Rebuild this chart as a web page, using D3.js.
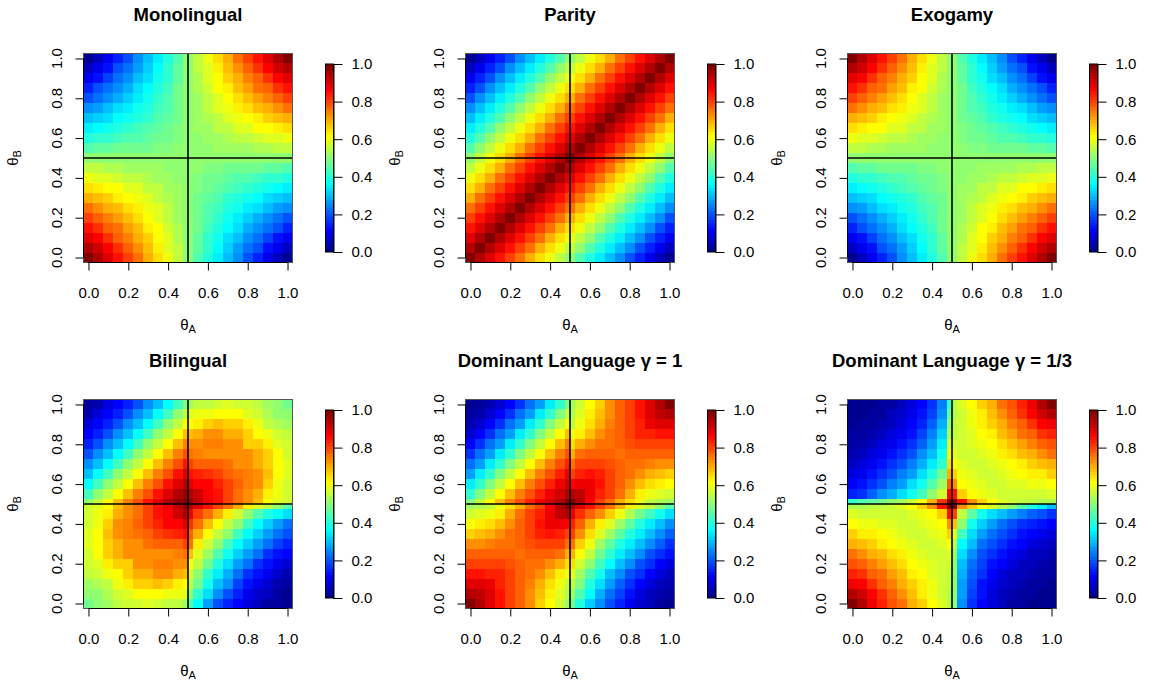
<!DOCTYPE html>
<html>
<head>
<meta charset="utf-8">
<script src="https://cdn.jsdelivr.net/npm/d3@7"></script>
<style>
body { margin: 0; background: #fff; }
text { font-family: "Liberation Sans", Arial, Helvetica, sans-serif; fill: #000; }
</style>
</head>
<body>
<svg id="chart" width="1154" height="684"></svg>
<script>
// grid positions (theta A across, theta B down from the top row)
const thetaCols = [0,0.05,0.1,0.15,0.2,0.25,0.3,0.35,0.4,0.45,0.499,0.501,0.55,0.6,0.65,0.7,0.75,0.8,0.85,0.9,0.95,1];
const thetaRows = [1,0.95,0.9,0.85,0.8,0.75,0.7,0.65,0.6,0.55,0.501,0.499,0.45,0.4,0.35,0.3,0.25,0.2,0.15,0.1,0.05,0];
const axisTicks = [0,0.2,0.4,0.6,0.8,1];
const legendTicks = [0,20,40,60,80,100];
const titles = ["Monolingual","Parity","Exogamy","Bilingual","Dominant Language \u03b3 = 1","Dominant Language \u03b3 = 1/3"];

// values in percent, rows from theta B = 1 (top) to 0 (bottom)
const monolingual = [
[0,5,10,15,20,25,30,35,40,45,50,50,55,60,65,70,75,80,85,90,95,100],
[5,10,14,19,23,28,32,37,41,46,50,50,55,59,64,68,73,77,82,86,91,95],
[10,14,18,22,26,30,34,38,42,46,50,50,54,58,62,66,70,74,78,82,86,90],
[15,19,22,26,29,33,36,40,43,47,50,50,54,57,61,64,68,71,75,78,82,85],
[20,23,26,29,32,35,38,41,44,47,50,50,53,56,59,62,65,68,71,74,77,80],
[25,28,30,33,35,38,40,43,45,48,50,50,53,55,58,60,63,65,68,70,73,75],
[30,32,34,36,38,40,42,44,46,48,50,50,52,54,56,58,60,62,64,66,68,70],
[35,37,38,40,41,43,44,46,47,49,50,50,52,53,55,56,58,59,61,62,64,65],
[40,41,42,43,44,45,46,47,48,49,50,50,51,52,53,54,55,56,57,58,59,60],
[45,46,46,47,47,48,48,49,49,50,50,50,51,51,52,52,53,53,54,54,55,55],
[50,50,50,50,50,50,50,50,50,50,50,50,50,50,50,50,50,50,50,50,50,50],
[50,50,50,50,50,50,50,50,50,50,50,50,50,50,50,50,50,50,50,50,50,50],
[55,55,54,54,53,53,52,52,51,51,50,50,50,49,49,48,48,47,47,46,46,45],
[60,59,58,57,56,55,54,53,52,51,50,50,49,48,47,46,45,44,43,42,41,40],
[65,64,62,61,59,58,56,55,53,52,50,50,49,47,46,44,43,41,40,38,37,35],
[70,68,66,64,62,60,58,56,54,52,50,50,48,46,44,42,40,38,36,34,32,30],
[75,73,70,68,65,63,60,58,55,53,50,50,48,45,43,40,38,35,33,30,28,25],
[80,77,74,71,68,65,62,59,56,53,50,50,47,44,41,38,35,32,29,26,23,20],
[85,82,78,75,71,68,64,61,57,54,50,50,47,43,40,36,33,29,26,22,19,15],
[90,86,82,78,74,70,66,62,58,54,50,50,46,42,38,34,30,26,22,18,14,10],
[95,91,86,82,77,73,68,64,59,55,50,50,46,41,37,32,28,23,19,14,10,5],
[100,95,90,85,80,75,70,65,60,55,50,50,45,40,35,30,25,20,15,10,5,0]
];

const parity = [
[0,5,10,15,20,25,30,35,40,45,50,50,55,60,65,70,75,80,85,90,95,100],
[5,10,15,20,25,30,35,40,45,50,55,55,60,65,70,75,80,85,90,95,100,95],
[10,15,20,25,30,35,40,45,50,55,60,60,65,70,75,80,85,90,95,100,95,90],
[15,20,25,30,35,40,45,50,55,60,65,65,70,75,80,85,90,95,100,95,90,85],
[20,25,30,35,40,45,50,55,60,65,70,70,75,80,85,90,95,100,95,90,85,80],
[25,30,35,40,45,50,55,60,65,70,75,75,80,85,90,95,100,95,90,85,80,75],
[30,35,40,45,50,55,60,65,70,75,80,80,85,90,95,100,95,90,85,80,75,70],
[35,40,45,50,55,60,65,70,75,80,85,85,90,95,100,95,90,85,80,75,70,65],
[40,45,50,55,60,65,70,75,80,85,90,90,95,100,95,90,85,80,75,70,65,60],
[45,50,55,60,65,70,75,80,85,90,95,95,100,95,90,85,80,75,70,65,60,55],
[50,55,60,65,70,75,80,85,90,95,100,100,95,90,85,80,75,70,65,60,55,50],
[50,55,60,65,70,75,80,85,90,95,100,100,95,90,85,80,75,70,65,60,55,50],
[55,60,65,70,75,80,85,90,95,100,95,95,90,85,80,75,70,65,60,55,50,45],
[60,65,70,75,80,85,90,95,100,95,90,90,85,80,75,70,65,60,55,50,45,40],
[65,70,75,80,85,90,95,100,95,90,85,85,80,75,70,65,60,55,50,45,40,35],
[70,75,80,85,90,95,100,95,90,85,80,80,75,70,65,60,55,50,45,40,35,30],
[75,80,85,90,95,100,95,90,85,80,75,75,70,65,60,55,50,45,40,35,30,25],
[80,85,90,95,100,95,90,85,80,75,70,70,65,60,55,50,45,40,35,30,25,20],
[85,90,95,100,95,90,85,80,75,70,65,65,60,55,50,45,40,35,30,25,20,15],
[90,95,100,95,90,85,80,75,70,65,60,60,55,50,45,40,35,30,25,20,15,10],
[95,100,95,90,85,80,75,70,65,60,55,55,50,45,40,35,30,25,20,15,10,5],
[100,95,90,85,80,75,70,65,60,55,50,50,45,40,35,30,25,20,15,10,5,0]
];

const exogamy = [
[100,95,90,85,80,75,70,65,60,55,50,50,45,40,35,30,25,20,15,10,5,0],
[95,91,86,82,77,73,68,64,59,55,50,50,46,41,37,32,28,23,19,14,10,5],
[90,86,82,78,74,70,66,62,58,54,50,50,46,42,38,34,30,26,22,18,14,10],
[85,82,78,75,71,68,64,61,57,54,50,50,47,43,40,36,33,29,26,22,19,15],
[80,77,74,71,68,65,62,59,56,53,50,50,47,44,41,38,35,32,29,26,23,20],
[75,73,70,68,65,63,60,58,55,53,50,50,48,45,43,40,38,35,33,30,28,25],
[70,68,66,64,62,60,58,56,54,52,50,50,48,46,44,42,40,38,36,34,32,30],
[65,64,62,61,59,58,56,55,53,52,50,50,49,47,46,44,43,41,40,38,37,35],
[60,59,58,57,56,55,54,53,52,51,50,50,49,48,47,46,45,44,43,42,41,40],
[55,55,54,54,53,53,52,52,51,51,50,50,50,49,49,48,48,47,47,46,46,45],
[50,50,50,50,50,50,50,50,50,50,50,50,50,50,50,50,50,50,50,50,50,50],
[50,50,50,50,50,50,50,50,50,50,50,50,50,50,50,50,50,50,50,50,50,50],
[45,46,46,47,47,48,48,49,49,50,50,50,51,51,52,52,53,53,54,54,55,55],
[40,41,42,43,44,45,46,47,48,49,50,50,51,52,53,54,55,56,57,58,59,60],
[35,37,38,40,41,43,44,46,47,49,50,50,52,53,55,56,58,59,61,62,64,65],
[30,32,34,36,38,40,42,44,46,48,50,50,52,54,56,58,60,62,64,66,68,70],
[25,28,30,33,35,38,40,43,45,48,50,50,53,55,58,60,63,65,68,70,73,75],
[20,23,26,29,32,35,38,41,44,47,50,50,53,56,59,62,65,68,71,74,77,80],
[15,19,22,26,29,33,36,40,43,47,50,50,54,57,61,64,68,71,75,78,82,85],
[10,14,18,22,26,30,34,38,42,46,50,50,54,58,62,66,70,74,78,82,86,90],
[5,10,14,19,23,28,32,37,41,46,50,50,55,59,64,68,73,77,82,86,91,95],
[0,5,10,15,20,25,30,35,40,45,50,50,55,60,65,70,75,80,85,90,95,100]
];

const bilingual = [
[2,4,8,12,15,20,25,30,37,43,49,53,55,56,57,58,57,57,55,53,50,47],
[4,8,12,15,20,25,30,37,43,50,56,58,60,60,62,62,62,59,57,54,51,50],
[8,12,15,20,25,30,37,43,50,56,62,62,63,67,68,67,67,63,60,56,54,53],
[12,15,20,25,30,37,43,50,56,62,68,68,70,72,72,70,70,66,62,60,57,55],
[15,20,25,30,37,43,50,56,62,68,74,72,73,74,74,72,72,67,66,63,59,57],
[20,25,30,37,43,50,56,62,68,74,79,75,74,73,73,72,72,72,70,67,62,57],
[25,30,37,43,50,56,62,68,74,79,85,80,78,78,77,75,73,72,70,67,62,58],
[30,37,43,50,56,62,68,74,79,85,90,85,83,82,80,78,75,74,72,68,62,58],
[37,43,50,56,62,68,74,79,85,90,94,90,87,87,83,80,78,74,72,67,60,57],
[43,50,56,62,68,74,79,85,90,94,97,95,92,87,85,80,75,73,70,63,60,57],
[50,56,62,68,74,79,85,90,94,97,100,98,93,88,85,80,75,72,68,62,58,57],
[57,58,62,68,72,75,80,85,88,93,98,95,90,85,80,75,70,63,58,55,50,45],
[57,60,63,70,73,75,80,85,87,92,95,88,80,75,70,63,57,50,45,40,36,33],
[57,60,67,72,74,78,80,83,87,87,90,82,75,68,62,56,50,43,37,32,27,23],
[58,62,68,72,74,75,78,80,82,83,85,78,69,62,56,50,43,37,32,27,22,19],
[58,62,67,70,72,73,75,77,78,78,80,75,63,57,50,43,37,32,27,22,18,15],
[57,62,67,70,72,72,72,73,73,74,75,68,59,52,45,38,32,27,22,17,14,11],
[57,59,63,66,67,72,72,74,74,73,72,62,55,47,40,33,27,22,17,13,10,7],
[55,57,60,62,66,70,70,72,72,70,68,58,51,42,35,29,22,17,13,10,7,4],
[53,54,56,60,63,67,67,68,67,63,62,55,48,38,30,25,18,13,10,7,4,2],
[50,51,54,57,59,62,62,62,60,60,58,50,42,33,25,20,15,10,7,5,3,1],
[47,50,53,55,57,57,58,57,56,55,53,45,37,28,20,15,12,8,5,3,2,0]
];

const dominantG1 = [
[0,2,4,7,11,16,22,28,35,42,49,52,57,62,67,72,77,81,85,90,95,100],
[2,4,7,11,16,22,28,35,42,49,55,54,58,63,68,73,77,81,85,90,93,95],
[4,7,11,16,22,28,35,42,49,55,62,56,60,65,70,74,77,80,84,88,90,90],
[7,11,16,22,28,35,42,49,55,62,68,60,64,68,72,75,77,80,83,84,85,85],
[11,16,22,28,35,42,49,55,62,68,74,65,70,73,75,76,77,79,80,80,81,81],
[16,22,28,35,42,49,55,62,68,74,79,70,75,77,78,77,76,77,77,77,77,77],
[22,28,35,42,49,55,62,68,74,79,84,75,80,81,81,79,77,76,75,74,73,72],
[28,35,42,49,55,62,68,74,79,84,88,80,84,85,84,81,78,75,72,70,68,67],
[35,42,49,55,62,68,74,79,84,88,92,86,89,88,85,81,77,73,68,65,63,62],
[42,49,55,62,68,74,79,84,88,92,95,94,93,89,84,80,75,70,64,60,58,57],
[49,55,62,68,74,79,84,88,92,95,99,99,94,86,80,75,70,65,60,56,54,52],
[52,54,56,60,65,70,75,80,86,94,99,95,90,85,80,75,70,63,58,55,50,45],
[57,58,60,64,70,75,80,84,89,93,94,88,82,77,72,66,60,54,48,43,38,34],
[62,63,65,68,73,77,81,85,88,89,86,84,77,70,64,58,52,46,40,35,30,26],
[67,68,70,72,75,78,81,84,85,84,80,80,72,65,58,52,46,40,35,30,25,21],
[72,73,74,75,76,77,79,81,81,80,75,76,67,60,53,46,40,35,30,25,21,17],
[77,77,77,77,77,76,77,78,77,75,70,70,62,55,48,41,35,30,25,20,16,13],
[81,81,80,80,79,77,76,75,73,70,65,65,57,50,43,36,30,25,20,16,12,9],
[85,85,84,83,80,77,75,72,68,64,60,60,53,45,38,31,25,20,16,12,9,6],
[90,90,88,84,80,77,74,70,65,60,56,56,49,40,33,27,21,16,12,9,6,4],
[95,93,90,85,81,77,73,68,63,58,54,52,45,36,29,23,18,13,9,6,4,2],
[100,95,90,85,81,77,72,67,62,57,52,47,40,32,25,20,15,10,7,5,3,1]
];

const dominantG3 = [
[0,0,1,2,3,5,8,11,16,24,42,54,58,62,66,70,75,79,84,89,94,100],
[0,1,2,3,5,7,10,13,18,26,46,54,57,60,64,68,73,77,82,86,91,94],
[1,2,3,4,6,8,12,15,21,29,50,55,57,60,63,66,70,74,78,82,86,89],
[2,3,4,6,8,10,14,18,24,32,54,55,57,59,61,64,68,71,75,78,82,84],
[3,4,6,8,10,13,16,21,27,35,58,57,57,58,60,62,65,68,71,74,77,79],
[4,6,8,10,13,16,20,25,31,38,62,58,57,57,58,60,63,65,68,70,73,75],
[6,8,10,13,16,20,24,29,35,42,65,62,58,57,57,58,60,62,64,66,68,70],
[8,10,13,16,20,24,28,34,40,47,70,67,60,58,57,57,58,60,61,63,64,66],
[11,13,16,20,24,28,33,38,45,52,78,72,62,60,58,57,57,58,59,60,60,62],
[15,17,21,25,29,33,38,43,50,57,86,85,66,62,60,58,57,57,57,57,57,58],
[42,44,46,48,50,53,57,62,70,82,100,100,85,72,67,62,58,57,55,55,54,54],
[54,54,55,55,57,58,62,67,72,85,100,100,72,66,62,58,54,50,45,40,35,30],
[58,57,57,57,57,57,58,60,62,66,85,80,56,46,39,34,30,27,24,21,19,17],
[62,60,60,59,58,57,57,58,60,62,72,68,50,39,32,27,23,20,17,15,13,11],
[66,64,63,61,60,58,57,57,58,60,67,60,43,34,28,23,19,16,14,12,10,8],
[70,68,66,64,62,60,58,57,57,58,62,55,37,30,23,19,16,13,11,9,7,6],
[75,73,70,68,65,63,60,58,57,57,58,52,34,26,20,16,13,10,8,6,5,4],
[79,77,74,71,68,65,62,60,58,57,57,50,31,23,18,14,11,8,6,5,4,3],
[84,82,78,75,71,68,64,61,59,57,55,50,29,21,16,12,9,6,5,4,3,2],
[89,86,82,78,74,70,66,63,60,57,55,50,28,19,14,10,7,5,4,3,2,1],
[94,91,86,82,77,73,68,64,60,57,54,50,27,18,13,9,6,4,3,2,1,1],
[100,94,89,84,79,75,70,66,62,58,54,50,26,17,12,8,5,3,2,1,1,0]
];

const grids = [monolingual, parity, exogamy, bilingual, dominantG1, dominantG3];

const svg = d3.select("#chart");
svg.append("rect").attr("width", 1154).attr("height", 684).attr("fill", "#fff");

const panelLeft = [83.5, 465.5, 847.5];
const panelTop = [53.5, 399.5];
const size = 209;

// tim.colors style palette, 64 steps
const paletteStops = d3.scaleLinear()
  .domain([0, 7, 23, 39, 55, 63])
  .range(["#00008F", "#0000FF", "#00FFFF", "#FFFF00", "#FF0000", "#800000"]);
const palette = d3.range(64).map(i => paletteStops(i));
const color = d3.scaleQuantize().domain([0, 100]).range(palette);

function cellEdges(v) {
  const e = [v[0] - (v[1] - v[0]) / 2];
  for (let i = 1; i < v.length; i++) e.push((v[i - 1] + v[i]) / 2);
  e.push(v[v.length - 1] + (v[v.length - 1] - v[v.length - 2]) / 2);
  return e;
}
const colEdges = cellEdges(thetaCols);
const rowEdges = cellEdges(thetaRows);

grids.forEach((grid, p) => {
  const left = panelLeft[p % 3];
  const top = panelTop[Math.floor(p / 3)];
  const x = d3.scaleLinear().domain([colEdges[0], colEdges[colEdges.length - 1]]).range([left, left + size]);
  const y = d3.scaleLinear().domain([rowEdges[rowEdges.length - 1], rowEdges[0]]).range([top + size, top]);

  const g = svg.append("g");

  // heat cells
  grid.forEach((row, r) => {
    g.selectAll(null)
      .data(row)
      .enter().append("rect")
      .attr("x", (d, c) => x(colEdges[c]))
      .attr("width", (d, c) => x(colEdges[c + 1]) - x(colEdges[c]))
      .attr("y", y(rowEdges[r]))
      .attr("height", y(rowEdges[r + 1]) - y(rowEdges[r]))
      .attr("fill", d => color(d))
      .attr("shape-rendering", "crispEdges");
  });

  // reference lines at 0.5
  g.append("line").attr("x1", x(0.5)).attr("x2", x(0.5)).attr("y1", top).attr("y2", top + size)
    .attr("stroke", "#000").attr("stroke-width", 1.6);
  g.append("line").attr("x1", left).attr("x2", left + size).attr("y1", y(0.5)).attr("y2", y(0.5))
    .attr("stroke", "#000").attr("stroke-width", 1.6);

  g.append("rect").attr("x", left).attr("y", top).attr("width", size).attr("height", size)
    .attr("fill", "none").attr("stroke", "#555").attr("stroke-width", 1);

  // x axis
  const xAxis = g.append("g")
    .attr("transform", `translate(0,${top + size})`)
    .call(d3.axisBottom(x).tickValues(axisTicks).tickFormat(d3.format(".1f")).tickSize(8).tickPadding(17).tickSizeOuter(0));
  xAxis.select(".domain").remove();
  xAxis.append("line").attr("x1", x(0)).attr("x2", x(1)).attr("stroke", "#000");
  xAxis.selectAll("text").attr("font-size", 15).attr("font-family", "Liberation Sans, Arial, sans-serif").attr("fill", "#000");
  xAxis.selectAll(".tick line").attr("stroke", "#000");

  // y axis, labels turned
  const yAxis = g.append("g")
    .attr("transform", `translate(${left},0)`)
    .call(d3.axisLeft(y).tickValues(axisTicks).tickFormat("").tickSize(8).tickSizeOuter(0));
  yAxis.select(".domain").remove();
  yAxis.append("line").attr("y1", y(0)).attr("y2", y(1)).attr("stroke", "#000");
  yAxis.selectAll(".tick line").attr("stroke", "#000");
  g.selectAll(null)
    .data(axisTicks)
    .enter().append("text")
    .attr("transform", d => `translate(${left - 27},${y(d)}) rotate(-90)`)
    .attr("text-anchor", "middle")
    .attr("dy", "0.36em")
    .attr("font-size", 15)
    .text(d3.format(".1f"));

  // axis titles
  const xl = g.append("text").attr("x", left + size / 2).attr("y", top + size + 67)
    .attr("text-anchor", "middle").attr("font-size", 15).text("\u03b8");
  xl.append("tspan").attr("font-size", 11).attr("dy", 3).text("A");

  const yl = g.append("text")
    .attr("transform", `translate(${left - 66},${top + size / 2}) rotate(-90)`)
    .attr("text-anchor", "middle").attr("font-size", 15).text("\u03b8");
  yl.append("tspan").attr("font-size", 11).attr("dy", 3).text("B");

  g.append("text").attr("x", left + size / 2).attr("y", top - 33)
    .attr("text-anchor", "middle").attr("font-size", 18.5).attr("font-weight", "bold")
    .text(titles[p]);

  // colour bar
  const barX = left + 242, barW = 8;
  const yb = d3.scaleLinear().domain([0, 100]).range([top + size - 10.5, top + 10.5]);
  const step = 100 / 64;
  g.selectAll(null)
    .data(palette)
    .enter().append("rect")
    .attr("x", barX)
    .attr("width", barW)
    .attr("y", (d, i) => yb((i + 1) * step))
    .attr("height", (d, i) => yb(i * step) - yb((i + 1) * step) + 0.4)
    .attr("fill", d => d)
    .attr("shape-rendering", "crispEdges");
  g.append("rect").attr("x", barX).attr("y", yb(100)).attr("width", barW).attr("height", yb(0) - yb(100))
    .attr("fill", "none").attr("stroke", "#000").attr("stroke-width", 1);

  const bAxis = g.append("g")
    .attr("transform", `translate(${barX + barW},0)`)
    .call(d3.axisRight(yb).tickValues(legendTicks).tickFormat(d => (d / 100).toFixed(1)).tickSize(9).tickPadding(9).tickSizeOuter(0));
  bAxis.select(".domain").attr("stroke", "#000");
  bAxis.selectAll(".tick line").attr("stroke", "#000");
  bAxis.selectAll("text").attr("font-size", 15).attr("font-family", "Liberation Sans, Arial, sans-serif").attr("fill", "#000");
});
</script>
</body>
</html>
